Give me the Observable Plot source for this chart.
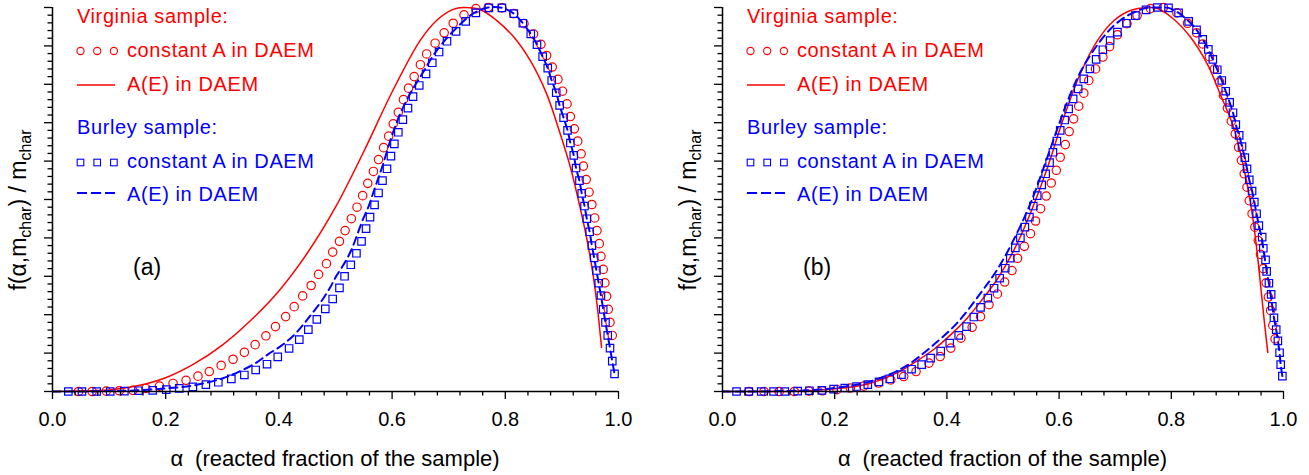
<!DOCTYPE html>
<html>
<head>
<meta charset="utf-8">
<script src="https://cdn.jsdelivr.net/npm/d3@7"></script>
<script src="https://cdn.jsdelivr.net/npm/@observablehq/plot@0.6"></script>
<style>
  html, body { margin: 0; padding: 0; background: #fff; }
  #wrap { display: flex; width: 1309px; height: 475px; overflow: hidden; }
  #wrap svg { display: block; max-width: none; }
</style>
</head>
<body>
<div id="wrap"></div>
<script>
// ---------- ticks & labels ----------
const X_MAJOR = [0, 0.2, 0.4, 0.6, 0.8, 1.0];
const Y_MAJOR = [0, 0.1, 0.2, 0.3, 0.4, 0.5, 0.6, 0.7, 0.8, 0.9, 1.0];
const PANEL_LETTERS = ["(a)", "(b)"];
const LEGEND_HEAD = ["Virginia sample:", "Burley sample:"];
const LEGEND_CONST = "constant A in DAEM";
const LEGEND_AE = "A(E) in DAEM";
const X_TITLE = "(reacted fraction of the sample)";

// ---------- panel (a) ----------
const virginiaConstA_a = [[0.046,0],[0.070,0],[0.095,0.001],[0.118,0.002],[0.142,0.003],[0.165,0.008],[0.189,0.014],[0.213,0.021],[0.236,0.029],[0.257,0.040],[0.277,0.052],[0.298,0.068],[0.319,0.084],[0.339,0.102],[0.358,0.122],[0.377,0.145],[0.394,0.169],[0.412,0.195],[0.427,0.221],[0.442,0.249],[0.457,0.276],[0.470,0.305],[0.484,0.333],[0.495,0.363],[0.507,0.391],[0.517,0.419],[0.528,0.450],[0.538,0.480],[0.548,0.510],[0.557,0.542],[0.567,0.573],[0.576,0.604],[0.585,0.635],[0.594,0.665],[0.602,0.697],[0.611,0.727],[0.620,0.760],[0.629,0.790],[0.639,0.820],[0.650,0.851],[0.661,0.879],[0.676,0.907],[0.692,0.934],[0.708,0.959],[0.727,0.981],[0.748,0.997],[0.770,1.0],[0.794,0.999],[0.815,0.984],[0.833,0.958],[0.850,0.931],[0.863,0.904],[0.873,0.875],[0.883,0.845],[0.893,0.813],[0.901,0.782],[0.909,0.749],[0.915,0.716],[0.922,0.684],[0.928,0.652],[0.934,0.619],[0.938,0.587],[0.943,0.552],[0.948,0.519],[0.953,0.487],[0.958,0.452],[0.962,0.419],[0.966,0.385],[0.969,0.352],[0.973,0.318],[0.976,0.283],[0.979,0.248],[0.982,0.214],[0.985,0.180],[0.989,0.146]];
const virginiaAE_a = [[0,0],[0.05,0.001],[0.10,0.004],[0.15,0.015],[0.20,0.036],[0.25,0.072],[0.30,0.121],[0.35,0.185],[0.40,0.262],[0.45,0.360],[0.50,0.480],[0.55,0.625],[0.60,0.780],[0.65,0.915],[0.68,0.968],[0.708,0.995],[0.726,1.0],[0.756,0.994],[0.785,0.966],[0.815,0.923],[0.844,0.862],[0.873,0.775],[0.897,0.671],[0.915,0.584],[0.932,0.480],[0.945,0.390],[0.955,0.305],[0.963,0.215],[0.970,0.115]];
const burleyConstA_a = [[0.028,0],[0.052,0],[0.078,0],[0.102,0],[0.127,0.001],[0.152,0.002],[0.177,0.003],[0.201,0.005],[0.224,0.008],[0.248,0.012],[0.271,0.018],[0.293,0.024],[0.316,0.033],[0.339,0.043],[0.359,0.056],[0.379,0.071],[0.398,0.090],[0.418,0.112],[0.436,0.135],[0.452,0.161],[0.467,0.188],[0.482,0.215],[0.495,0.241],[0.507,0.270],[0.516,0.300],[0.527,0.330],[0.537,0.360],[0.546,0.391],[0.554,0.424],[0.561,0.454],[0.569,0.486],[0.576,0.517],[0.583,0.549],[0.591,0.580],[0.598,0.613],[0.604,0.645],[0.611,0.675],[0.619,0.708],[0.628,0.738],[0.637,0.768],[0.648,0.797],[0.660,0.827],[0.671,0.856],[0.683,0.884],[0.697,0.912],[0.713,0.938],[0.730,0.964],[0.748,0.986],[0.771,0.999],[0.794,0.999],[0.815,0.984],[0.831,0.959],[0.845,0.931],[0.856,0.903],[0.866,0.872],[0.875,0.842],[0.882,0.810],[0.890,0.778],[0.896,0.745],[0.903,0.713],[0.910,0.680],[0.915,0.647],[0.921,0.615],[0.925,0.582],[0.931,0.549],[0.935,0.516],[0.940,0.483],[0.944,0.450],[0.949,0.416],[0.953,0.380],[0.957,0.348],[0.961,0.315],[0.965,0.282],[0.969,0.250],[0.973,0.214],[0.977,0.180],[0.981,0.146],[0.985,0.113],[0.989,0.079],[0.993,0.046]];
const burleyAE_a = [[0,0],[0.05,0],[0.10,0.001],[0.15,0.003],[0.20,0.008],[0.25,0.016],[0.30,0.034],[0.33,0.052],[0.361,0.076],[0.382,0.098],[0.405,0.120],[0.426,0.146],[0.444,0.176],[0.458,0.202],[0.476,0.237],[0.491,0.272],[0.502,0.302],[0.517,0.337],[0.529,0.372],[0.539,0.411],[0.549,0.450],[0.559,0.484],[0.567,0.519],[0.575,0.553],[0.583,0.587],[0.595,0.645],[0.610,0.708],[0.629,0.768],[0.653,0.827],[0.677,0.884],[0.708,0.938],[0.745,0.986],[0.770,1.0],[0.794,0.999],[0.815,0.984],[0.831,0.959],[0.845,0.931],[0.856,0.903],[0.866,0.872],[0.875,0.842],[0.882,0.810],[0.890,0.778],[0.896,0.745],[0.903,0.713],[0.910,0.680],[0.915,0.647],[0.921,0.615],[0.925,0.582],[0.931,0.549],[0.935,0.516],[0.940,0.483],[0.944,0.450],[0.949,0.416],[0.953,0.380],[0.957,0.348],[0.961,0.315],[0.965,0.282],[0.969,0.250],[0.973,0.214],[0.977,0.180],[0.981,0.146],[0.985,0.113],[0.989,0.079],[0.993,0.046]];

// ---------- panel (b) ----------
const virginiaConstA_b = [[0.047,0],[0.074,0],[0.101,0],[0.128,0],[0.154,0.001],[0.178,0.002],[0.204,0.005],[0.228,0.009],[0.252,0.014],[0.278,0.022],[0.300,0.030],[0.323,0.039],[0.345,0.052],[0.368,0.074],[0.388,0.091],[0.407,0.113],[0.425,0.139],[0.445,0.167],[0.460,0.195],[0.475,0.226],[0.490,0.254],[0.503,0.285],[0.516,0.315],[0.526,0.347],[0.538,0.378],[0.549,0.411],[0.558,0.444],[0.567,0.476],[0.577,0.509],[0.586,0.543],[0.595,0.576],[0.602,0.610],[0.611,0.643],[0.618,0.677],[0.626,0.710],[0.635,0.743],[0.644,0.777],[0.653,0.810],[0.665,0.840],[0.678,0.871],[0.690,0.898],[0.704,0.929],[0.721,0.958],[0.739,0.979],[0.763,0.997],[0.786,1.0],[0.810,0.986],[0.829,0.959],[0.845,0.934],[0.856,0.905],[0.868,0.872],[0.877,0.840],[0.886,0.806],[0.893,0.771],[0.900,0.738],[0.907,0.704],[0.914,0.671],[0.920,0.636],[0.925,0.602],[0.930,0.567],[0.935,0.532],[0.939,0.497],[0.944,0.463],[0.949,0.428],[0.955,0.393],[0.959,0.357],[0.964,0.320],[0.969,0.283],[0.973,0.246],[0.977,0.211],[0.981,0.172],[0.985,0.137]];
const virginiaAE_b = [[0,0],[0.10,0.0],[0.15,0.002],[0.20,0.007],[0.258,0.019],[0.288,0.034],[0.317,0.053],[0.347,0.080],[0.377,0.110],[0.407,0.148],[0.436,0.191],[0.460,0.234],[0.490,0.293],[0.519,0.367],[0.549,0.465],[0.579,0.582],[0.608,0.712],[0.638,0.828],[0.668,0.913],[0.697,0.965],[0.727,0.992],[0.757,1.0],[0.775,0.998],[0.804,0.970],[0.834,0.923],[0.864,0.853],[0.887,0.775],[0.911,0.688],[0.929,0.584],[0.943,0.475],[0.952,0.375],[0.960,0.265],[0.966,0.180],[0.972,0.102]];
const burleyConstA_b = [[0.025,0],[0.047,0],[0.069,0],[0.091,0],[0.111,0],[0.134,0.001],[0.155,0.002],[0.177,0.003],[0.198,0.006],[0.218,0.009],[0.239,0.013],[0.259,0.018],[0.279,0.025],[0.298,0.033],[0.319,0.044],[0.337,0.058],[0.355,0.070],[0.371,0.087],[0.389,0.105],[0.405,0.126],[0.421,0.146],[0.435,0.169],[0.448,0.194],[0.460,0.219],[0.473,0.243],[0.484,0.269],[0.494,0.295],[0.504,0.321],[0.513,0.347],[0.522,0.374],[0.531,0.400],[0.539,0.428],[0.547,0.454],[0.554,0.483],[0.561,0.510],[0.569,0.538],[0.576,0.567],[0.583,0.596],[0.589,0.623],[0.596,0.652],[0.602,0.680],[0.610,0.707],[0.617,0.736],[0.625,0.762],[0.634,0.788],[0.644,0.814],[0.655,0.840],[0.666,0.865],[0.678,0.890],[0.691,0.914],[0.704,0.936],[0.720,0.959],[0.736,0.979],[0.755,0.994],[0.775,1.0],[0.795,0.999],[0.813,0.986],[0.831,0.964],[0.845,0.942],[0.856,0.917],[0.866,0.891],[0.874,0.865],[0.882,0.838],[0.890,0.810],[0.897,0.782],[0.904,0.753],[0.910,0.726],[0.915,0.695],[0.921,0.667],[0.926,0.638],[0.931,0.609],[0.935,0.580],[0.939,0.551],[0.944,0.522],[0.948,0.493],[0.952,0.463],[0.956,0.432],[0.962,0.402],[0.964,0.373],[0.968,0.343],[0.970,0.313],[0.974,0.282],[0.978,0.253],[0.980,0.222],[0.983,0.192],[0.987,0.161],[0.990,0.132],[0.993,0.101],[0.995,0.070],[0.998,0.040]];
const burleyAE_b = [[0,0],[0.05,0],[0.10,0.001],[0.15,0.003],[0.20,0.009],[0.25,0.021],[0.29,0.040],[0.329,0.068],[0.371,0.115],[0.418,0.178],[0.460,0.256],[0.490,0.318],[0.519,0.395],[0.549,0.490],[0.573,0.585],[0.594,0.672],[0.614,0.752],[0.638,0.832],[0.668,0.902],[0.697,0.952],[0.727,0.983],[0.757,0.999],[0.775,1.0],[0.795,0.999],[0.813,0.986],[0.831,0.964],[0.845,0.942],[0.856,0.917],[0.866,0.891],[0.874,0.865],[0.882,0.838],[0.890,0.810],[0.897,0.782],[0.904,0.753],[0.910,0.726],[0.915,0.695],[0.921,0.667],[0.926,0.638],[0.931,0.609],[0.935,0.580],[0.939,0.551],[0.944,0.522],[0.948,0.493],[0.952,0.463],[0.956,0.432],[0.961,0.402],[0.964,0.373],[0.967,0.343],[0.970,0.313],[0.974,0.282],[0.977,0.253],[0.980,0.222],[0.983,0.192],[0.987,0.161],[0.990,0.132],[0.993,0.101],[0.995,0.070],[0.998,0.040]];

// ---------- drawing ----------
const FONT = "'Liberation Sans', Arial, Helvetica, sans-serif";
const RED = "#ff0000", BLUE = "#0000ff";
const isMultiple = (v, step) => Math.abs(v / step - Math.round(v / step)) < 1e-6;
const X_MINOR = d3.range(0, 1.0001, 0.04).filter(v => !isMultiple(v, 0.2));
const Y_MINOR = d3.range(0, 1.0001, 0.02).filter(v => !isMultiple(v, 0.1));

function panel(cfg) {
  const px = d => d[0], py = d => d[1];
  const svgNode = Plot.plot({
    width: cfg.width, height: 475,
    marginLeft: cfg.ml, marginRight: cfg.mr, marginTop: 7, marginBottom: 84,
    x: {domain: [0, 1]},
    y: {domain: [0, 1]},
    style: {fontFamily: FONT, background: "white", color: "black", overflow: "visible"},
    marks: [
      Plot.line(cfg.vE, {x: px, y: py, stroke: RED, strokeWidth: 1.5, curve: "catmull-rom"}),
      Plot.dot(cfg.vC, {x: px, y: py, r: 4.2, stroke: RED, strokeWidth: 1.2, fill: "none"}),
      Plot.line(cfg.bE, {x: px, y: py, stroke: BLUE, strokeWidth: 2, strokeDasharray: "8,5", curve: "catmull-rom"}),
      Plot.dot(cfg.bC, {x: px, y: py, r: 4.2, symbol: "square", stroke: BLUE, strokeWidth: 1.2, fill: "none"}),
      Plot.axisX({ticks: X_MAJOR, tickSize: 8, tickPadding: 12, fontSize: 20, tickFormat: d3.format(".1f"), label: null, strokeWidth: 1.3}),
      Plot.axisX({ticks: X_MINOR, tickSize: 4.5, tickFormat: () => "", label: null, strokeWidth: 1.3}),
      Plot.axisY({ticks: Y_MAJOR, tickSize: 8, tickFormat: () => "", label: null, strokeWidth: 1.3}),
      Plot.axisY({ticks: Y_MINOR, tickSize: 4.5, tickFormat: () => "", label: null, strokeWidth: 1.3}),
      Plot.ruleY([0], {stroke: "black", strokeWidth: 1.5}),
      Plot.ruleX([0], {stroke: "black", strokeWidth: 1.5})
    ]
  });

  const xs = svgNode.scale("x");
  const x0 = xs.apply(0), x1 = xs.apply(1);
  const svg = d3.select(svgNode);
  const g = svg.append("g").attr("font-family", FONT).attr("text-anchor", "start");

  // legend
  const lx = x0 + 25, tx = x0 + 75;
  const txt = (x, y, s, col, size = 20) =>
    g.append("text").attr("x", x).attr("y", y).attr("fill", col)
      .attr("font-size", size).attr("letter-spacing", 0.6).text(s);
  txt(lx, 23, LEGEND_HEAD[0], RED);
  [3.5, 20.2, 36.9].forEach(dx =>
    g.append("circle").attr("cx", lx + dx).attr("cy", 51).attr("r", 3.6)
      .attr("fill", "none").attr("stroke", RED).attr("stroke-width", 1.1));
  txt(tx, 57, LEGEND_CONST, RED);
  g.append("line").attr("x1", lx).attr("x2", lx + 38).attr("y1", 85).attr("y2", 85)
    .attr("stroke", RED).attr("stroke-width", 1.4);
  txt(tx, 91, LEGEND_AE, RED);
  txt(lx, 134, LEGEND_HEAD[1], BLUE);
  [3.5, 20.2, 36.9].forEach(dx =>
    g.append("rect").attr("x", lx + dx - 3.3).attr("y", 162.5 - 3.3).attr("width", 6.6).attr("height", 6.6)
      .attr("fill", "none").attr("stroke", BLUE).attr("stroke-width", 1.1));
  txt(tx, 168, LEGEND_CONST, BLUE);
  g.append("line").attr("x1", lx).attr("x2", lx + 41).attr("y1", 193).attr("y2", 193)
    .attr("stroke", BLUE).attr("stroke-width", 2).attr("stroke-dasharray", "10,4");
  txt(tx, 201, LEGEND_AE, BLUE);

  // panel letter
  g.append("text").attr("x", x0 + 81).attr("y", 275).attr("font-size", 23).attr("fill", "black").text(cfg.letter);

  // y label
  const yl = g.append("text").attr("transform", `translate(${x0 - 26},210) rotate(-90)`)
    .attr("text-anchor", "middle").attr("font-size", 23).attr("fill", "black");
  yl.append("tspan").text("f(α,m");
  yl.append("tspan").attr("font-size", 16).attr("dy", 5).text("char");
  yl.append("tspan").attr("dy", -5).text(") / m");
  yl.append("tspan").attr("font-size", 16).attr("dy", 5).text("char");

  // x title
  const xt = g.append("text").attr("x", (x0 + x1) / 2).attr("y", 466)
    .attr("text-anchor", "middle").attr("font-size", 22).attr("fill", "black");
  xt.append("tspan").text("α");
  xt.append("tspan").attr("dx", 12).text(X_TITLE);

  return svgNode;
}

const wrap = document.getElementById("wrap");
wrap.appendChild(panel({width: 654, ml: 52, mr: 36, letter: PANEL_LETTERS[0],
  vC: virginiaConstA_a, vE: virginiaAE_a, bC: burleyConstA_a, bE: burleyAE_a}));
wrap.appendChild(panel({width: 655, ml: 68, mr: 26, letter: PANEL_LETTERS[1],
  vC: virginiaConstA_b, vE: virginiaAE_b, bC: burleyConstA_b, bE: burleyAE_b}));
</script>
</body>
</html>
